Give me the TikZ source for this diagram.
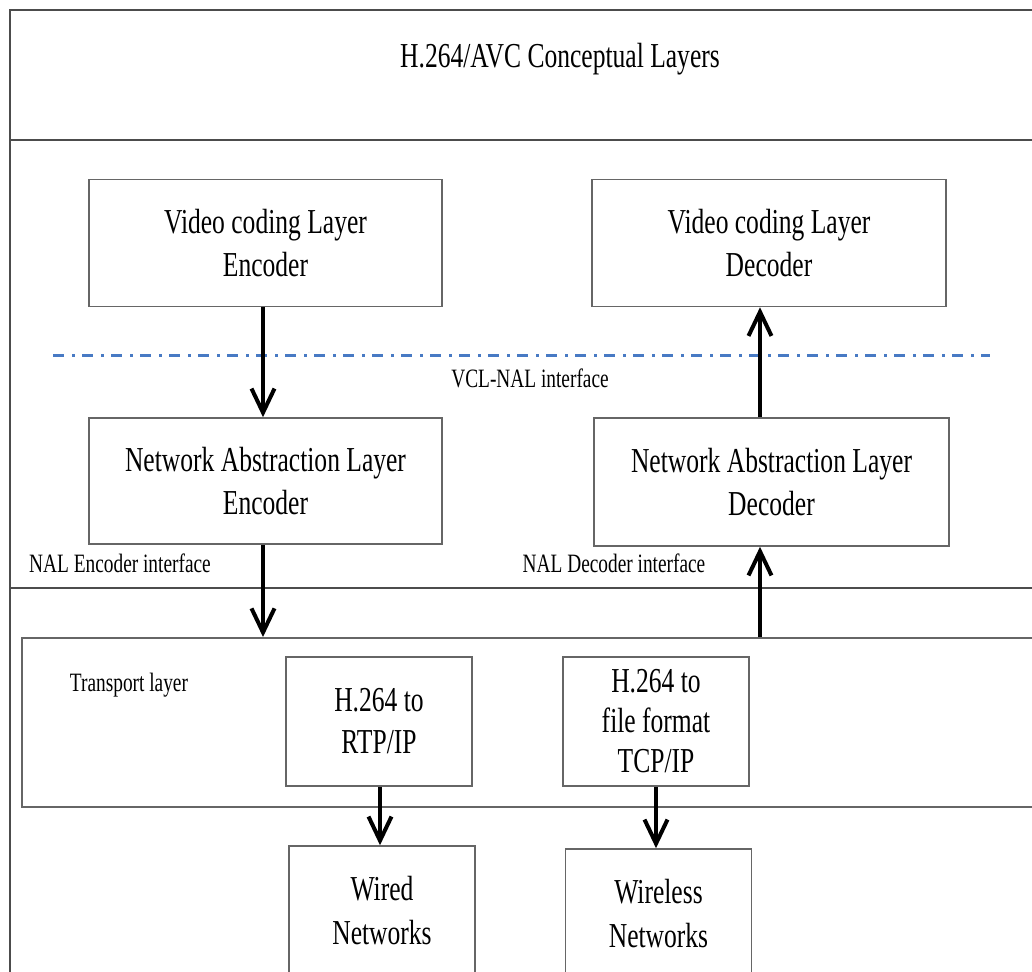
\documentclass[tikz,border=0pt]{standalone}
\usepackage{fontspec}
\setmainfont{Liberation Serif}[FakeStretch=0.73]
\usetikzlibrary{arrows.meta}

\definecolor{ifblue}{RGB}{72,122,196}

\begin{document}
\begin{tikzpicture}[x=1pt,y=-1pt,
    layerbox/.style={draw=black!60, line width=1.6pt, align=center, inner sep=0pt,
        font=\fontsize{35}{43}\selectfont},
    flow/.style={line width=4pt, -{Straight Barb[length=24pt,width=23pt,line width=4pt]}},
    note/.style={font=\fontsize{26.5}{30}\selectfont, inner sep=0pt},
    sepline/.style={draw=black!70, line width=1.6pt}]
    \useasboundingbox (0,0) rectangle (1032,971);
    \clip (0,0) rectangle (1032,971);

    % Outer frame and layer separators
    \draw[sepline] (10,980) -- (10,10) -- (1040,10);
    \draw[sepline] (10,140) -- (1040,140);
    \draw[sepline] (10,588) -- (1040,588);

    % Title
    \node[font=\fontsize{35}{43}\selectfont] (title) at (560,59) {H.264/AVC Conceptual Layers};

    % Video coding layer
    \node[layerbox, minimum width=353pt, minimum height=127pt] (vclenc) at (265.5,243) {Video coding Layer\\Encoder};
    \node[layerbox, minimum width=354pt, minimum height=127pt] (vcldec) at (769,243) {Video coding Layer\\Decoder};

    % VCL-NAL interface
    \draw[ifblue, line width=3pt, dash pattern=on 11pt off 8pt on 3pt off 7pt] (53,355) -- (990,355);
    \node[note] (vclnal) at (530,378) {VCL-NAL interface};

    % Network abstraction layer
    \node[layerbox, minimum width=353pt, minimum height=126pt] (nalenc) at (265.5,481) {Network Abstraction Layer\\Encoder};
    \node[layerbox, minimum width=355pt, minimum height=128pt] (naldec) at (771.5,482) {Network Abstraction Layer\\Decoder};

    \draw[flow] ([xshift=-2.5pt]vclenc.south) -- ([xshift=-2.5pt]nalenc.north);
    \draw[flow] ([xshift=-11.5pt]naldec.north) -- ([xshift=-9pt]vcldec.south);

    \node[note] (encif) at (120,563) {NAL Encoder interface};
    \node[note] (decif) at (614,563) {NAL Decoder interface};

    % Transport layer
    \node[draw=black!60, line width=1.6pt, anchor=north west, minimum width=1040pt, minimum height=169pt] (transport) at (21,637) {};
    \node[note] (tplabel) at (129,685) {Transport layer};

    \draw[flow] ([xshift=-2.5pt]nalenc.south) -- ([xshift=-2.5pt]nalenc.south |- transport.north);
    \draw[flow] ([xshift=-11.5pt]naldec.south |- transport.north) -- ([xshift=-11.5pt]naldec.south);

    \node[layerbox, minimum width=186pt, minimum height=129pt, font=\fontsize{35}{42}\selectfont] (rtp) at (379,721.5) {H.264 to\\RTP/IP};
    \node[layerbox, minimum width=186pt, minimum height=129pt, font=\fontsize{35}{40}\selectfont] (tcp) at (656,721.5) {H.264 to\\file format\\TCP/IP};

    % Networks
    \node[layerbox, minimum width=186pt, minimum height=130pt, font=\fontsize{35}{44}\selectfont] (wired) at (382,911) {Wired\\Networks};
    \node[layerbox, minimum width=186pt, minimum height=130pt, font=\fontsize{35}{44}\selectfont] (wireless) at (658.5,914) {Wireless\\Networks};

    \draw[flow] ([xshift=1pt]rtp.south) -- ([xshift=1pt]rtp.south |- wired.north);
    \draw[flow] (tcp.south) -- (tcp.south |- wireless.north);
\end{tikzpicture}
\end{document}
